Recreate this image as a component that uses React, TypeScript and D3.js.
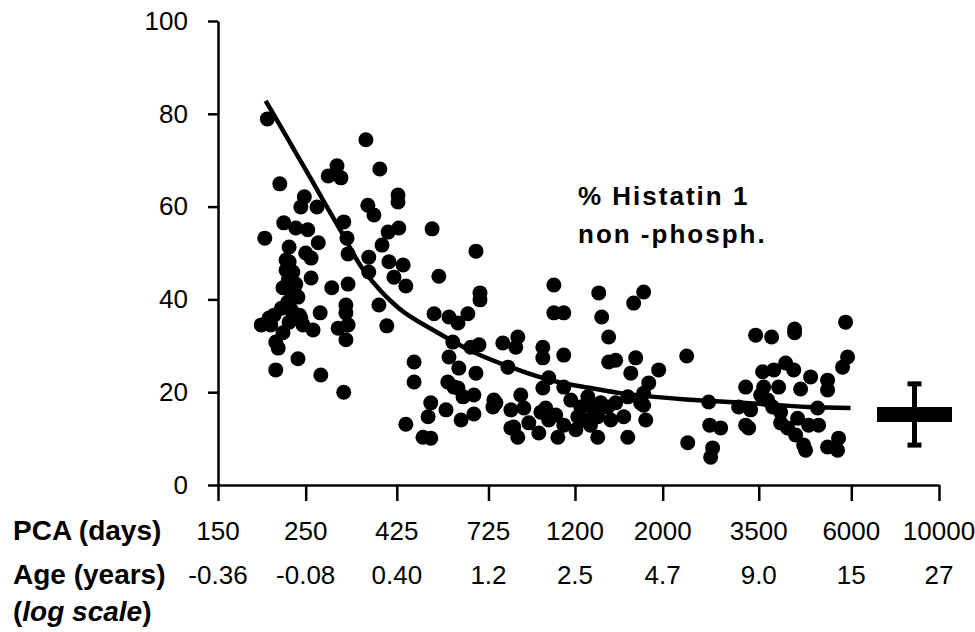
import * as d3 from "d3";
import React, { useRef, useEffect } from "react";

// scatter points: post-conceptional age (days) and % non-phosphorylated histatin 1
const pcaDays = [
  200, 300, 285, 307, 215, 248, 243, 267, 220, 312, 236, 253, 197, 269, 227, 318, 250, 258, 223, 320,
  223, 258, 226, 219, 291, 320, 234, 230, 239, 316, 316, 272, 217, 230, 241, 208, 202, 193, 227, 246,
  261, 302, 320, 219, 210, 213, 316, 239, 210, 273, 312, 227, 232, 236, 225, 243, 204,
  355, 385, 428, 428, 359, 372, 430, 404, 522, 390, 361, 674, 406, 441, 361, 418, 543, 448, 690, 690,
  383, 401, 528, 576, 607, 643, 589, 576, 654, 686, 470, 470, 610, 674, 572, 607, 625, 666, 518, 566,
  666, 744, 510, 618, 448, 495, 518, 593,
  757, 826, 891, 840, 860, 972, 984, 1030, 1086, 1124, 1241, 1220, 1263, 1338, 1370, 1370, 1452, 1478, 1293,
  1061, 1061, 1124, 788, 860, 850, 812, 995, 995, 1124, 1030, 1124, 995, 875, 748, 1012, 1073, 1293, 1394,
  826, 1378, 1402, 1460, 1460, 1171, 1313, 1206, 917,
  1790, 1689, 1709, 1954, 2300, 1661, 1844, 1632, 1759, 1812, 1632, 1594, 1521, 1790, 1790, 1521, 2314,
  2614, 2630, 2803, 2675, 2645, 3113, 3243, 3243, 3338, 3300,
  3437, 3772, 4313, 4313, 3580, 3822, 4093, 4290, 4734, 5226, 5226, 3601, 3929, 4466, 3538, 3795, 3975,
  4931, 5803, 5871, 5702, 3975, 4141, 4389, 4679, 4960, 4338, 4598, 4545, 5226, 5539, 5571, 3686,
];

const histatinPct = [
  78.9, 68.8, 66.6, 66.2, 64.9, 62.1, 59.9, 59.9, 56.5, 56.7, 55.4, 55.0, 53.2, 52.2, 51.3, 53.2, 50.0, 48.9, 48.5, 49.8,
  46.3, 44.6, 44.2, 42.5, 42.5, 43.3, 41.6, 40.3, 40.5, 38.8, 37.1, 37.1, 38.1, 37.7, 36.6, 36.6, 36.0, 34.5, 35.1, 34.5,
  33.4, 33.8, 34.5, 32.8, 30.8, 29.5, 31.3, 27.2, 24.8, 23.7, 20.0, 48.1, 45.9, 43.3, 39.4, 36.0, 34.5,
  74.4, 68.1, 62.5, 61.0, 60.3, 58.2, 55.4, 54.5, 55.2, 51.7, 49.1, 50.4, 48.1, 47.4, 45.9, 44.8, 45.0, 42.9, 41.4, 39.9,
  38.8, 34.3, 36.9, 36.2, 34.9, 36.9, 30.8, 27.6, 29.7, 30.2, 26.5, 22.2, 25.2, 24.1, 22.2, 20.9, 19.0, 19.4, 17.7, 16.2,
  15.3, 16.8, 14.7, 14.0, 13.1, 10.3, 10.1, 21.1,
  17.7, 16.2, 16.6, 12.5, 10.3, 11.2, 15.7, 14.0, 10.3, 12.9, 16.8, 14.7, 14.0, 16.2, 14.7, 10.3, 16.8, 14.0, 19.0,
  43.1, 37.1, 37.1, 30.6, 31.9, 29.7, 25.4, 29.7, 27.4, 28.0, 23.1, 21.1, 20.9, 19.4, 18.3, 16.6, 15.1, 17.2, 17.7,
  12.3, 41.4, 36.2, 31.9, 26.5, 18.3, 12.9, 11.9, 13.4,
  41.6, 39.2, 27.4, 24.8, 27.8, 24.1, 22.0, 19.0, 17.7, 14.0, 10.3, 14.7, 26.9, 19.8, 17.2, 17.7, 9.1,
  17.9, 12.9, 12.3, 8.0, 6.0, 16.8, 21.1, 12.9, 16.2, 12.3,
  32.3, 31.9, 32.8, 33.6, 24.4, 24.8, 26.3, 24.8, 23.3, 22.6, 20.5, 21.1, 21.1, 20.7, 19.4, 16.8, 15.7,
  16.6, 35.1, 27.6, 25.4, 13.4, 12.3, 14.4, 12.9, 12.9, 10.8, 7.5, 8.6, 8.2, 7.5, 10.1, 18.3,
];

// fitted curve
const fitPcaDays = [198, 226, 258, 307, 351, 430, 525, 674, 891, 1086, 1316, 1566, 2247, 3243, 4652, 5974];
const fitPct = [82.8, 74.4, 65.9, 54.7, 46.2, 38.1, 33.4, 28.4, 24.4, 22.2, 20.9, 19.8, 18.5, 17.7, 16.8, 16.6];

// adult reference (mean ± SD)
const adultPca = 8670;
const adultMean = 15.2;
const adultSd = 6.6;

const pcaTicks = [150, 250, 425, 725, 1200, 2000, 3500, 6000, 10000];
const ageLabels = ["-0.36", "-0.08", "0.40", "1.2", "2.5", "4.7", "9.0", "15", "27"];
const yTicks = [0, 20, 40, 60, 80, 100];

const FONT = "'Liberation Sans', Arial, Helvetica, sans-serif";

export default function App() {
  const svgRef = useRef<SVGSVGElement | null>(null);

  useEffect(() => {
    if (!svgRef.current) return;
    const svg = d3.select(svgRef.current);
    svg.selectAll("*").remove();

    const x = d3.scaleLog().domain([150, 10000]).range([218, 939]);
    const y = d3.scaleLinear().domain([0, 100]).range([485, 21]);

    // y 軸
    const yAxis = d3.axisLeft(y).tickValues(yTicks).tickSize(10).tickSizeOuter(0).tickPadding(20);
    const gy = svg.append("g").attr("transform", `translate(218,0)`).call(yAxis);
    gy.selectAll("path, line").attr("stroke", "#000").attr("stroke-width", 2.5);
    gy.selectAll("text")
      .attr("fill", "#000")
      .style("font-family", FONT)
      .style("font-size", "26px");

    // x 軸 (labels drawn separately)
    const xAxis = d3
      .axisBottom(x)
      .tickValues(pcaTicks)
      .tickSize(16)
      .tickSizeOuter(0)
      .tickFormat(() => "");
    const gx = svg.append("g").attr("transform", `translate(0,${y(0)})`).call(xAxis);
    gx.selectAll("path, line").attr("stroke", "#000").attr("stroke-width", 2.5);

    // tick label rows
    const rows = svg.append("g").style("font-family", FONT).attr("fill", "#000");
    rows
      .selectAll("text.pca")
      .data(pcaTicks)
      .enter()
      .append("text")
      .attr("class", "pca")
      .attr("x", (d) => x(d))
      .attr("y", 540)
      .attr("text-anchor", "middle")
      .style("font-size", "26px")
      .text((d) => String(d));
    rows
      .selectAll("text.age")
      .data(pcaTicks)
      .enter()
      .append("text")
      .attr("class", "age")
      .attr("x", (d) => x(d))
      .attr("y", 584)
      .attr("text-anchor", "middle")
      .style("font-size", "26px")
      .text((d, i) => ageLabels[i]);

    const rowTitles = rows.append("g").style("font-size", "28px").style("font-weight", "bold");
    rowTitles.append("text").attr("x", 13).attr("y", 540).text("PCA (days)");
    rowTitles.append("text").attr("x", 13).attr("y", 584).text("Age (years)");
    const logTxt = rowTitles.append("text").attr("x", 13).attr("y", 621);
    logTxt.append("tspan").text("(");
    logTxt.append("tspan").style("font-style", "italic").text("log scale");
    logTxt.append("tspan").text(")");

    // 散布点
    const points = pcaDays.map((d, i) => [d, histatinPct[i]] as [number, number]);
    svg
      .append("g")
      .selectAll("circle")
      .data(points)
      .enter()
      .append("circle")
      .attr("cx", (d) => x(d[0]))
      .attr("cy", (d) => y(d[1]))
      .attr("r", 7.5)
      .attr("fill", "#000");

    // fitted curve
    const fit = fitPcaDays.map((d, i) => [d, fitPct[i]] as [number, number]);
    const line = d3
      .line<[number, number]>()
      .x((d) => x(d[0]))
      .y((d) => y(d[1]))
      .curve(d3.curveCatmullRom.alpha(0.5));
    svg
      .append("path")
      .attr("d", line(fit))
      .attr("fill", "none")
      .attr("stroke", "#000")
      .attr("stroke-width", 4.5);

    // adult mean ± SD marker
    const ax = x(adultPca);
    const adult = svg.append("g");
    adult
      .append("rect")
      .attr("x", ax - 37.5)
      .attr("y", y(adultMean) - 7.5)
      .attr("width", 75)
      .attr("height", 15)
      .attr("fill", "#000");
    adult
      .append("line")
      .attr("x1", ax)
      .attr("x2", ax)
      .attr("y1", y(adultMean + adultSd))
      .attr("y2", y(adultMean - adultSd))
      .attr("stroke", "#000")
      .attr("stroke-width", 5);
    [adultMean + adultSd, adultMean - adultSd].forEach((v) => {
      adult
        .append("line")
        .attr("x1", ax - 7)
        .attr("x2", ax + 7)
        .attr("y1", y(v))
        .attr("y2", y(v))
        .attr("stroke", "#000")
        .attr("stroke-width", 5);
    });

    // annotation
    const note = svg
      .append("g")
      .style("font-family", FONT)
      .style("font-size", "26px")
      .style("font-weight", "bold")
      .style("letter-spacing", "2px")
      .attr("fill", "#000");
    note.append("text").attr("x", 578).attr("y", 205).text("% Histatin 1");
    note.append("text").attr("x", 578).attr("y", 243).text("non -phosph.");
  }, []);

  return (
    <svg
      ref={svgRef}
      width={975}
      height={632}
      style={{ position: "absolute", left: 0, top: 0, background: "#fff" }}
    ></svg>
  );
}
